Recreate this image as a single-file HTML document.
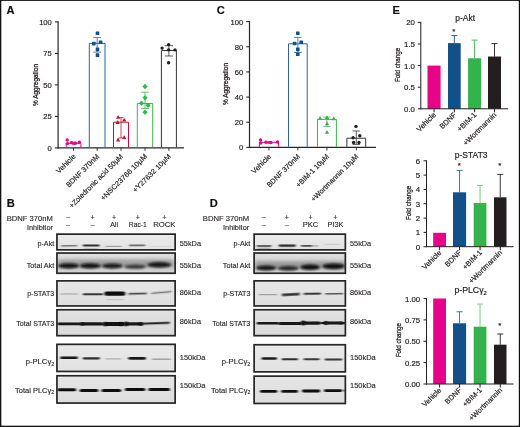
<!DOCTYPE html><html><head><meta charset="utf-8"><title>Figure</title><style>html,body{margin:0;padding:0;background:#fff}svg{display:block}</style></head><body>
<svg width="520" height="427" viewBox="0 0 520 427" font-family="Liberation Sans, sans-serif">
<defs><filter id="b1" x="-20%" y="-100%" width="140%" height="300%"><feGaussianBlur stdDeviation="0.7 0.5"/></filter><filter id="b2" x="-20%" y="-100%" width="140%" height="300%"><feGaussianBlur stdDeviation="1.0 0.8"/></filter></defs>
<rect x="0" y="0" width="520" height="427" fill="#fff" stroke="none" stroke-width="1" />
<rect x="0" y="0" width="520" height="0.9" fill="#111" stroke="none" stroke-width="1" />
<rect x="0" y="0" width="1.3" height="427" fill="#111" stroke="none" stroke-width="1" />
<rect x="518.8" y="0" width="1.2" height="427" fill="#111" stroke="none" stroke-width="1" />
<rect x="0" y="425.7" width="520" height="1.3" fill="#111" stroke="none" stroke-width="1" />
<text x="6.5" y="13.9" font-size="11.1" text-anchor="start" fill="#111" stroke="#111" stroke-width="0.18" font-weight="bold" >A</text>
<text x="6.7" y="206.8" font-size="11.1" text-anchor="start" fill="#111" stroke="#111" stroke-width="0.18" font-weight="bold" >B</text>
<text x="216.7" y="13.9" font-size="11.1" text-anchor="start" fill="#111" stroke="#111" stroke-width="0.18" font-weight="bold" >C</text>
<text x="209.8" y="206.8" font-size="11.1" text-anchor="start" fill="#111" stroke="#111" stroke-width="0.18" font-weight="bold" >D</text>
<text x="392.5" y="13.9" font-size="11.1" text-anchor="start" fill="#111" stroke="#111" stroke-width="0.18" font-weight="bold" >E</text>
<line x1="58.1" y1="21.299999999999997" x2="58.1" y2="148.5" stroke="#2b2728" stroke-width="1.2" />
<line x1="54.9" y1="147.9" x2="58.1" y2="147.9" stroke="#2b2728" stroke-width="1.1" />
<text x="51.800000000000004" y="150.9" font-size="7.6" text-anchor="end" fill="#231f20" stroke="#231f20" stroke-width="0.18" >0</text>
<line x1="54.9" y1="116.4" x2="58.1" y2="116.4" stroke="#2b2728" stroke-width="1.1" />
<text x="51.800000000000004" y="119.4" font-size="7.6" text-anchor="end" fill="#231f20" stroke="#231f20" stroke-width="0.18" >25</text>
<line x1="54.9" y1="84.9" x2="58.1" y2="84.9" stroke="#2b2728" stroke-width="1.1" />
<text x="51.800000000000004" y="87.9" font-size="7.6" text-anchor="end" fill="#231f20" stroke="#231f20" stroke-width="0.18" >50</text>
<line x1="54.9" y1="53.400000000000006" x2="58.1" y2="53.400000000000006" stroke="#2b2728" stroke-width="1.1" />
<text x="51.800000000000004" y="56.400000000000006" font-size="7.6" text-anchor="end" fill="#231f20" stroke="#231f20" stroke-width="0.18" >75</text>
<line x1="54.9" y1="21.900000000000006" x2="58.1" y2="21.900000000000006" stroke="#2b2728" stroke-width="1.1" />
<text x="51.800000000000004" y="24.900000000000006" font-size="7.6" text-anchor="end" fill="#231f20" stroke="#231f20" stroke-width="0.18" >100</text>
<line x1="57.5" y1="147.9" x2="184" y2="147.9" stroke="#2b2728" stroke-width="1.2" />
<text x="37.6" y="85" font-size="8" text-anchor="middle" fill="#231f20" stroke="#231f20" stroke-width="0.3" textLength="42" lengthAdjust="spacingAndGlyphs" transform="rotate(-90 37.6 85)" >% Aggregation</text>
<path d="M66.2,147.3 V143.3 H80.9 V147.3" fill="none" stroke="#e60487" stroke-width="1"/>
<line x1="73.55000000000001" y1="142" x2="73.55000000000001" y2="144.5" stroke="#e60487" stroke-width="0.8" />
<line x1="72.05000000000001" y1="142" x2="75.05000000000001" y2="142" stroke="#e60487" stroke-width="0.8" />
<line x1="72.05000000000001" y1="144.5" x2="75.05000000000001" y2="144.5" stroke="#e60487" stroke-width="0.8" />
<circle cx="67.2" cy="140" r="1.7" fill="#e60487"/>
<circle cx="67.4" cy="143.6" r="1.7" fill="#e60487"/>
<circle cx="71.5" cy="142.6" r="1.7" fill="#e60487"/>
<circle cx="75.5" cy="143.2" r="1.7" fill="#e60487"/>
<circle cx="79.3" cy="142.2" r="1.7" fill="#e60487"/>
<line x1="73.55000000000001" y1="147.9" x2="73.55000000000001" y2="150.9" stroke="#2b2728" stroke-width="0.9" />
<text x="76.15" y="156.9" font-size="7.2" text-anchor="end" fill="#231f20" stroke="#231f20" stroke-width="0.18" textLength="24.3" lengthAdjust="spacingAndGlyphs" transform="rotate(-45 76.15 156.9)" >Vehicle</text>
<path d="M89.3,147.3 V43.4 H105 V147.3" fill="none" stroke="#2e659c" stroke-width="1"/>
<line x1="97.15" y1="37.6" x2="97.15" y2="52.1" stroke="#2e659c" stroke-width="0.8" />
<line x1="93.25" y1="37.6" x2="101.05000000000001" y2="37.6" stroke="#2e659c" stroke-width="0.8" />
<line x1="93.25" y1="52.1" x2="101.05000000000001" y2="52.1" stroke="#2e659c" stroke-width="0.8" />
<rect x="95.7" y="31.499999999999996" width="3.6" height="3.6" fill="#115088" stroke="none" stroke-width="1" rx="0.4"/>
<rect x="92.0" y="41.800000000000004" width="3.6" height="3.6" fill="#115088" stroke="none" stroke-width="1" rx="0.4"/>
<rect x="98.8" y="40.5" width="3.6" height="3.6" fill="#115088" stroke="none" stroke-width="1" rx="0.4"/>
<rect x="95.7" y="47.6" width="3.6" height="3.6" fill="#115088" stroke="none" stroke-width="1" rx="0.4"/>
<rect x="95.7" y="53.300000000000004" width="3.6" height="3.6" fill="#115088" stroke="none" stroke-width="1" rx="0.4"/>
<line x1="97.15" y1="147.9" x2="97.15" y2="150.9" stroke="#2b2728" stroke-width="0.9" />
<text x="99.75" y="156.9" font-size="7.2" text-anchor="end" fill="#231f20" stroke="#231f20" stroke-width="0.18" transform="rotate(-45 99.75 156.9)" >BDNF 370nM</text>
<path d="M113.5,147.3 V122.2 H128.5 V147.3" fill="none" stroke="#c8102e" stroke-width="1"/>
<line x1="121.0" y1="117.6" x2="121.0" y2="138" stroke="#c8102e" stroke-width="0.8" />
<line x1="118.5" y1="117.6" x2="123.5" y2="117.6" stroke="#c8102e" stroke-width="0.8" />
<line x1="118.5" y1="138" x2="123.5" y2="138" stroke="#c8102e" stroke-width="0.8" />
<polygon points="118.1,115.0 116.0,118.8 120.19999999999999,118.8" fill="#c8102e"/>
<polygon points="124.2,117.8 122.10000000000001,121.6 126.3,121.6" fill="#c8102e"/>
<polygon points="117.6,120.10000000000001 115.5,123.9 119.69999999999999,123.9" fill="#c8102e"/>
<polygon points="124.2,135.29999999999998 122.10000000000001,139.1 126.3,139.1" fill="#c8102e"/>
<polygon points="118.1,137.6 116.0,141.4 120.19999999999999,141.4" fill="#c8102e"/>
<line x1="121.0" y1="147.9" x2="121.0" y2="150.9" stroke="#2b2728" stroke-width="0.9" />
<text x="123.6" y="156.9" font-size="7.2" text-anchor="end" fill="#231f20" stroke="#231f20" stroke-width="0.18" transform="rotate(-45 123.6 156.9)" >+Zoledronic acid 50µM</text>
<path d="M137.3,147.3 V103.5 H152.7 V147.3" fill="none" stroke="#3cb54a" stroke-width="1"/>
<line x1="145.0" y1="92.2" x2="145.0" y2="108.5" stroke="#3cb54a" stroke-width="0.8" />
<line x1="141.2" y1="92.2" x2="148.8" y2="92.2" stroke="#3cb54a" stroke-width="0.8" />
<line x1="141.2" y1="108.5" x2="148.8" y2="108.5" stroke="#3cb54a" stroke-width="0.8" />
<polygon points="145,84.1 142.7,86.5 145,88.9 147.3,86.5" fill="#32b44d" stroke="#32b44d" stroke-width="0.5" stroke-linejoin="round"/>
<polygon points="145,95.39999999999999 142.7,97.8 145,100.2 147.3,97.8" fill="#32b44d" stroke="#32b44d" stroke-width="0.5" stroke-linejoin="round"/>
<polygon points="141.5,100.8 139.2,103.2 141.5,105.60000000000001 143.8,103.2" fill="#32b44d" stroke="#32b44d" stroke-width="0.5" stroke-linejoin="round"/>
<polygon points="148.1,102.89999999999999 145.79999999999998,105.3 148.1,107.7 150.4,105.3" fill="#32b44d" stroke="#32b44d" stroke-width="0.5" stroke-linejoin="round"/>
<polygon points="145,109.8 142.7,112.2 145,114.60000000000001 147.3,112.2" fill="#32b44d" stroke="#32b44d" stroke-width="0.5" stroke-linejoin="round"/>
<line x1="145.0" y1="147.9" x2="145.0" y2="150.9" stroke="#2b2728" stroke-width="0.9" />
<text x="147.6" y="156.9" font-size="7.2" text-anchor="end" fill="#231f20" stroke="#231f20" stroke-width="0.18" textLength="62.5" lengthAdjust="spacingAndGlyphs" transform="rotate(-45 147.6 156.9)" >+NSC23766 10µM</text>
<path d="M161.4,147.3 V50.5 H176.4 V147.3" fill="none" stroke="#333" stroke-width="1"/>
<line x1="168.9" y1="45.7" x2="168.9" y2="56" stroke="#333" stroke-width="0.8" />
<line x1="164.8" y1="45.7" x2="173.0" y2="45.7" stroke="#333" stroke-width="0.8" />
<line x1="164.8" y1="56" x2="173.0" y2="56" stroke="#333" stroke-width="0.8" />
<circle cx="168.6" cy="44.6" r="1.7" fill="#231f20"/>
<circle cx="162.1" cy="48.1" r="1.7" fill="#231f20"/>
<circle cx="168.6" cy="49.9" r="1.7" fill="#231f20"/>
<circle cx="175" cy="49.9" r="1.7" fill="#231f20"/>
<circle cx="168.6" cy="62.7" r="1.7" fill="#231f20"/>
<line x1="168.9" y1="147.9" x2="168.9" y2="150.9" stroke="#2b2728" stroke-width="0.9" />
<text x="171.5" y="156.9" font-size="7.2" text-anchor="end" fill="#231f20" stroke="#231f20" stroke-width="0.18" textLength="51" lengthAdjust="spacingAndGlyphs" transform="rotate(-45 171.5 156.9)" >+Y27632 10µM</text>
<line x1="249.5" y1="21.0" x2="249.5" y2="148.0" stroke="#2b2728" stroke-width="1.2" />
<line x1="246.3" y1="147.4" x2="249.5" y2="147.4" stroke="#2b2728" stroke-width="1.1" />
<text x="243.2" y="150.4" font-size="7.6" text-anchor="end" fill="#231f20" stroke="#231f20" stroke-width="0.18" >0</text>
<line x1="246.3" y1="122.24000000000001" x2="249.5" y2="122.24000000000001" stroke="#2b2728" stroke-width="1.1" />
<text x="243.2" y="125.24000000000001" font-size="7.6" text-anchor="end" fill="#231f20" stroke="#231f20" stroke-width="0.18" >20</text>
<line x1="246.3" y1="97.08000000000001" x2="249.5" y2="97.08000000000001" stroke="#2b2728" stroke-width="1.1" />
<text x="243.2" y="100.08000000000001" font-size="7.6" text-anchor="end" fill="#231f20" stroke="#231f20" stroke-width="0.18" >40</text>
<line x1="246.3" y1="71.92" x2="249.5" y2="71.92" stroke="#2b2728" stroke-width="1.1" />
<text x="243.2" y="74.92" font-size="7.6" text-anchor="end" fill="#231f20" stroke="#231f20" stroke-width="0.18" >60</text>
<line x1="246.3" y1="46.760000000000005" x2="249.5" y2="46.760000000000005" stroke="#2b2728" stroke-width="1.1" />
<text x="243.2" y="49.760000000000005" font-size="7.6" text-anchor="end" fill="#231f20" stroke="#231f20" stroke-width="0.18" >80</text>
<line x1="246.3" y1="21.599999999999994" x2="249.5" y2="21.599999999999994" stroke="#2b2728" stroke-width="1.1" />
<text x="243.2" y="24.599999999999994" font-size="7.6" text-anchor="end" fill="#231f20" stroke="#231f20" stroke-width="0.18" >100</text>
<line x1="248.9" y1="147.4" x2="376" y2="147.4" stroke="#2b2728" stroke-width="1.2" />
<text x="228.2" y="84" font-size="8" text-anchor="middle" fill="#231f20" stroke="#231f20" stroke-width="0.3" textLength="42" lengthAdjust="spacingAndGlyphs" transform="rotate(-90 228.2 84)" >% Aggregation</text>
<path d="M259.4,146.8 V142.3 H278.5 V146.8" fill="none" stroke="#e60487" stroke-width="1"/>
<line x1="268.95" y1="141.5" x2="268.95" y2="143.5" stroke="#e60487" stroke-width="0.8" />
<line x1="267.45" y1="141.5" x2="270.45" y2="141.5" stroke="#e60487" stroke-width="0.8" />
<line x1="267.45" y1="143.5" x2="270.45" y2="143.5" stroke="#e60487" stroke-width="0.8" />
<circle cx="260.5" cy="140" r="1.7" fill="#e60487"/>
<circle cx="260.8" cy="143" r="1.7" fill="#e60487"/>
<circle cx="266" cy="142.3" r="1.7" fill="#e60487"/>
<circle cx="271" cy="142.5" r="1.7" fill="#e60487"/>
<circle cx="277.5" cy="142" r="1.7" fill="#e60487"/>
<line x1="268.95" y1="147.4" x2="268.95" y2="150.4" stroke="#2b2728" stroke-width="0.9" />
<text x="271.55" y="157.0" font-size="7.2" text-anchor="end" fill="#231f20" stroke="#231f20" stroke-width="0.18" textLength="24.3" lengthAdjust="spacingAndGlyphs" transform="rotate(-45 271.55 157.0)" >Vehicle</text>
<path d="M288.5,146.8 V43.8 H307.2 V146.8" fill="none" stroke="#2e659c" stroke-width="1"/>
<line x1="297.85" y1="37.4" x2="297.85" y2="52.5" stroke="#2e659c" stroke-width="0.8" />
<line x1="294.05" y1="37.4" x2="301.65000000000003" y2="37.4" stroke="#2e659c" stroke-width="0.8" />
<line x1="294.05" y1="52.5" x2="301.65000000000003" y2="52.5" stroke="#2e659c" stroke-width="0.8" />
<rect x="296.0" y="31.400000000000002" width="3.6" height="3.6" fill="#115088" stroke="none" stroke-width="1" rx="0.4"/>
<rect x="292.8" y="41.7" width="3.6" height="3.6" fill="#115088" stroke="none" stroke-width="1" rx="0.4"/>
<rect x="299.4" y="40.5" width="3.6" height="3.6" fill="#115088" stroke="none" stroke-width="1" rx="0.4"/>
<rect x="296.0" y="47.6" width="3.6" height="3.6" fill="#115088" stroke="none" stroke-width="1" rx="0.4"/>
<rect x="296.0" y="52.5" width="3.6" height="3.6" fill="#115088" stroke="none" stroke-width="1" rx="0.4"/>
<line x1="297.85" y1="147.4" x2="297.85" y2="150.4" stroke="#2b2728" stroke-width="0.9" />
<text x="300.45000000000005" y="157.0" font-size="7.2" text-anchor="end" fill="#231f20" stroke="#231f20" stroke-width="0.18" transform="rotate(-45 300.45000000000005 157.0)" >BDNF 370nM</text>
<path d="M317.5,146.8 V119.4 H336.4 V146.8" fill="none" stroke="#3cb54a" stroke-width="1"/>
<line x1="326.95" y1="117" x2="326.95" y2="126.4" stroke="#3cb54a" stroke-width="0.8" />
<line x1="323.45" y1="117" x2="330.45" y2="117" stroke="#3cb54a" stroke-width="0.8" />
<line x1="323.45" y1="126.4" x2="330.45" y2="126.4" stroke="#3cb54a" stroke-width="0.8" />
<polygon points="320,116.0 317.9,119.8 322.1,119.8" fill="#32b44d"/>
<polygon points="327,115.2 324.9,119.0 329.1,119.0" fill="#32b44d"/>
<polygon points="333.7,116.5 331.59999999999997,120.3 335.8,120.3" fill="#32b44d"/>
<polygon points="327,121.4 324.9,125.2 329.1,125.2" fill="#32b44d"/>
<polygon points="327,130.0 324.9,133.8 329.1,133.8" fill="#32b44d"/>
<line x1="326.95" y1="147.4" x2="326.95" y2="150.4" stroke="#2b2728" stroke-width="0.9" />
<text x="329.55" y="157.0" font-size="7.2" text-anchor="end" fill="#231f20" stroke="#231f20" stroke-width="0.18" transform="rotate(-45 329.55 157.0)" >+BIM-1 10µM</text>
<path d="M346.9,146.8 V138.2 H365.7 V146.8" fill="none" stroke="#333" stroke-width="1"/>
<line x1="356.29999999999995" y1="131" x2="356.29999999999995" y2="144.4" stroke="#333" stroke-width="0.8" />
<line x1="352.49999999999994" y1="131" x2="360.09999999999997" y2="131" stroke="#333" stroke-width="0.8" />
<line x1="352.49999999999994" y1="144.4" x2="360.09999999999997" y2="144.4" stroke="#333" stroke-width="0.8" />
<circle cx="356" cy="126.4" r="1.7" fill="#231f20"/>
<circle cx="359.8" cy="135.8" r="1.7" fill="#231f20"/>
<circle cx="353.1" cy="137.7" r="1.7" fill="#231f20"/>
<circle cx="353.6" cy="142.5" r="1.7" fill="#231f20"/>
<circle cx="359" cy="142.5" r="1.7" fill="#231f20"/>
<line x1="356.29999999999995" y1="147.4" x2="356.29999999999995" y2="150.4" stroke="#2b2728" stroke-width="0.9" />
<text x="358.9" y="157.0" font-size="7.2" text-anchor="end" fill="#231f20" stroke="#231f20" stroke-width="0.18" textLength="63.8" lengthAdjust="spacingAndGlyphs" transform="rotate(-45 358.9 157.0)" >+Wortmannin 10µM</text>
<rect x="427.5" y="65.6" width="13.100000000000023" height="43.2" fill="#e60487" stroke="none" stroke-width="1" />
<line x1="454.35" y1="43.135999999999996" x2="454.35" y2="35.57599999999999" stroke="#115088" stroke-width="0.9" />
<line x1="451.35" y1="35.57599999999999" x2="457.35" y2="35.57599999999999" stroke="#115088" stroke-width="0.9" />
<rect x="448" y="43.135999999999996" width="12.699999999999989" height="65.664" fill="#115088" stroke="none" stroke-width="1" />
<line x1="474.6" y1="58.256" x2="474.6" y2="40.111999999999995" stroke="#32b44d" stroke-width="0.9" />
<line x1="471.6" y1="40.111999999999995" x2="477.6" y2="40.111999999999995" stroke="#32b44d" stroke-width="0.9" />
<rect x="468.1" y="58.256" width="13.0" height="50.544" fill="#32b44d" stroke="none" stroke-width="1" />
<line x1="494.5" y1="56.528" x2="494.5" y2="43.568" stroke="#231f20" stroke-width="0.9" />
<line x1="491.5" y1="43.568" x2="497.5" y2="43.568" stroke="#231f20" stroke-width="0.9" />
<rect x="488" y="56.528" width="13" height="52.272" fill="#231f20" stroke="none" stroke-width="1" />
<line x1="420.8" y1="21.9" x2="420.8" y2="109.3" stroke="#231f20" stroke-width="1" />
<line x1="417.8" y1="108.8" x2="420.8" y2="108.8" stroke="#231f20" stroke-width="1" />
<text x="414.90000000000003" y="111.85" font-size="7.8" text-anchor="end" fill="#231f20" stroke="#231f20" stroke-width="0.18" >0.0</text>
<line x1="417.8" y1="87.19999999999999" x2="420.8" y2="87.19999999999999" stroke="#231f20" stroke-width="1" />
<text x="414.90000000000003" y="90.24999999999999" font-size="7.8" text-anchor="end" fill="#231f20" stroke="#231f20" stroke-width="0.18" >0.5</text>
<line x1="417.8" y1="65.6" x2="420.8" y2="65.6" stroke="#231f20" stroke-width="1" />
<text x="414.90000000000003" y="68.64999999999999" font-size="7.8" text-anchor="end" fill="#231f20" stroke="#231f20" stroke-width="0.18" >1.0</text>
<line x1="417.8" y1="43.999999999999986" x2="420.8" y2="43.999999999999986" stroke="#231f20" stroke-width="1" />
<text x="414.90000000000003" y="47.04999999999998" font-size="7.8" text-anchor="end" fill="#231f20" stroke="#231f20" stroke-width="0.18" >1.5</text>
<line x1="417.8" y1="22.39999999999999" x2="420.8" y2="22.39999999999999" stroke="#231f20" stroke-width="1" />
<text x="414.90000000000003" y="25.449999999999992" font-size="7.8" text-anchor="end" fill="#231f20" stroke="#231f20" stroke-width="0.18" >20</text>
<line x1="420.3" y1="108.8" x2="508.2" y2="108.8" stroke="#231f20" stroke-width="1" />
<line x1="434.05" y1="108.8" x2="434.05" y2="112.3" stroke="#231f20" stroke-width="1" />
<text x="436.35" y="115.3" font-size="7.3" text-anchor="end" fill="#231f20" stroke="#231f20" stroke-width="0.18" textLength="23.8" lengthAdjust="spacingAndGlyphs" transform="rotate(-45 436.35 115.3)" >Vehicle</text>
<line x1="454.35" y1="108.8" x2="454.35" y2="112.3" stroke="#231f20" stroke-width="1" />
<text x="456.65000000000003" y="115.3" font-size="7.3" text-anchor="end" fill="#231f20" stroke="#231f20" stroke-width="0.18" transform="rotate(-45 456.65000000000003 115.3)" >BDNF</text>
<line x1="474.6" y1="108.8" x2="474.6" y2="112.3" stroke="#231f20" stroke-width="1" />
<text x="476.90000000000003" y="115.3" font-size="7.3" text-anchor="end" fill="#231f20" stroke="#231f20" stroke-width="0.18" transform="rotate(-45 476.90000000000003 115.3)" >+BIM-1</text>
<line x1="494.5" y1="108.8" x2="494.5" y2="112.3" stroke="#231f20" stroke-width="1" />
<text x="496.8" y="115.3" font-size="7.3" text-anchor="end" fill="#231f20" stroke="#231f20" stroke-width="0.18" transform="rotate(-45 496.8 115.3)" >+Wortmannin</text>
<text x="465.2" y="21" font-size="8.7" text-anchor="middle" fill="#231f20" stroke="#231f20" stroke-width="0.18" textLength="19.7" lengthAdjust="spacingAndGlyphs" >p-Akt</text>
<text x="400.2" y="65" font-size="8" text-anchor="middle" fill="#231f20" stroke="#231f20" stroke-width="0.28" textLength="34.2" lengthAdjust="spacingAndGlyphs" transform="rotate(-90 400.2 65)" >Fold change</text>
<text x="453.8" y="33.5" font-size="8" text-anchor="middle" fill="#231f20" stroke="#231f20" stroke-width="0.18" >*</text>
<rect x="433.2" y="232.81283333333332" width="12.800000000000011" height="13.887166666666673" fill="#e60487" stroke="none" stroke-width="1" />
<line x1="459.55" y1="192.29666666666668" x2="459.55" y2="170.3921666666667" stroke="#2e659c" stroke-width="0.9" />
<line x1="456.55" y1="170.3921666666667" x2="462.55" y2="170.3921666666667" stroke="#2e659c" stroke-width="0.9" />
<rect x="453" y="192.29666666666668" width="13.100000000000023" height="54.40333333333331" fill="#115088" stroke="none" stroke-width="1" />
<line x1="480.04999999999995" y1="203.03416666666666" x2="480.04999999999995" y2="185.42466666666667" stroke="#6cc777" stroke-width="0.9" />
<line x1="477.04999999999995" y1="185.42466666666667" x2="483.04999999999995" y2="185.42466666666667" stroke="#6cc777" stroke-width="0.9" />
<rect x="473.7" y="203.03416666666666" width="12.699999999999989" height="43.665833333333325" fill="#32b44d" stroke="none" stroke-width="1" />
<line x1="500.25" y1="197.3075" x2="500.25" y2="174.40083333333337" stroke="#231f20" stroke-width="0.9" />
<line x1="497.25" y1="174.40083333333337" x2="503.25" y2="174.40083333333337" stroke="#231f20" stroke-width="0.9" />
<rect x="494" y="197.3075" width="12.5" height="49.392499999999984" fill="#231f20" stroke="none" stroke-width="1" />
<line x1="426.5" y1="160.3" x2="426.5" y2="247.2" stroke="#231f20" stroke-width="1" />
<line x1="423.5" y1="246.7" x2="426.5" y2="246.7" stroke="#231f20" stroke-width="1" />
<text x="420.1" y="249.75" font-size="7.8" text-anchor="end" fill="#231f20" stroke="#231f20" stroke-width="0.18" >0</text>
<line x1="423.5" y1="232.38333333333333" x2="426.5" y2="232.38333333333333" stroke="#231f20" stroke-width="1" />
<text x="420.1" y="235.43333333333334" font-size="7.8" text-anchor="end" fill="#231f20" stroke="#231f20" stroke-width="0.18" >1</text>
<line x1="423.5" y1="218.06666666666666" x2="426.5" y2="218.06666666666666" stroke="#231f20" stroke-width="1" />
<text x="420.1" y="221.11666666666667" font-size="7.8" text-anchor="end" fill="#231f20" stroke="#231f20" stroke-width="0.18" >2</text>
<line x1="423.5" y1="203.75" x2="426.5" y2="203.75" stroke="#231f20" stroke-width="1" />
<text x="420.1" y="206.8" font-size="7.8" text-anchor="end" fill="#231f20" stroke="#231f20" stroke-width="0.18" >3</text>
<line x1="423.5" y1="189.43333333333334" x2="426.5" y2="189.43333333333334" stroke="#231f20" stroke-width="1" />
<text x="420.1" y="192.48333333333335" font-size="7.8" text-anchor="end" fill="#231f20" stroke="#231f20" stroke-width="0.18" >4</text>
<line x1="423.5" y1="175.11666666666667" x2="426.5" y2="175.11666666666667" stroke="#231f20" stroke-width="1" />
<text x="420.1" y="178.16666666666669" font-size="7.8" text-anchor="end" fill="#231f20" stroke="#231f20" stroke-width="0.18" >5</text>
<line x1="423.5" y1="160.8" x2="426.5" y2="160.8" stroke="#231f20" stroke-width="1" />
<text x="420.1" y="163.85000000000002" font-size="7.8" text-anchor="end" fill="#231f20" stroke="#231f20" stroke-width="0.18" >6</text>
<line x1="426.0" y1="246.7" x2="513.6" y2="246.7" stroke="#231f20" stroke-width="1" />
<line x1="439.6" y1="246.7" x2="439.6" y2="250.2" stroke="#231f20" stroke-width="1" />
<text x="441.90000000000003" y="253.2" font-size="7.3" text-anchor="end" fill="#231f20" stroke="#231f20" stroke-width="0.18" textLength="23.8" lengthAdjust="spacingAndGlyphs" transform="rotate(-45 441.90000000000003 253.2)" >Vehicle</text>
<line x1="459.55" y1="246.7" x2="459.55" y2="250.2" stroke="#231f20" stroke-width="1" />
<text x="461.85" y="253.2" font-size="7.3" text-anchor="end" fill="#231f20" stroke="#231f20" stroke-width="0.18" transform="rotate(-45 461.85 253.2)" >BDNF</text>
<line x1="480.04999999999995" y1="246.7" x2="480.04999999999995" y2="250.2" stroke="#231f20" stroke-width="1" />
<text x="482.34999999999997" y="253.2" font-size="7.3" text-anchor="end" fill="#231f20" stroke="#231f20" stroke-width="0.18" transform="rotate(-45 482.34999999999997 253.2)" >+BIM-1</text>
<line x1="500.25" y1="246.7" x2="500.25" y2="250.2" stroke="#231f20" stroke-width="1" />
<text x="502.55" y="253.2" font-size="7.3" text-anchor="end" fill="#231f20" stroke="#231f20" stroke-width="0.18" transform="rotate(-45 502.55 253.2)" >+Wortmannin</text>
<text x="471.2" y="157.6" font-size="8.7" text-anchor="middle" fill="#231f20" stroke="#231f20" stroke-width="0.18" textLength="32.8" lengthAdjust="spacingAndGlyphs" >p-STAT3</text>
<text x="410.8" y="203" font-size="8" text-anchor="middle" fill="#231f20" stroke="#231f20" stroke-width="0.28" textLength="34.2" lengthAdjust="spacingAndGlyphs" transform="rotate(-90 410.8 203)" >Fold change</text>
<text x="459.4" y="168" font-size="8" text-anchor="middle" fill="#231f20" stroke="#231f20" stroke-width="0.18" >*</text>
<text x="499.8" y="168" font-size="8" text-anchor="middle" fill="#231f20" stroke="#231f20" stroke-width="0.18" >*</text>
<rect x="433.2" y="298.5" width="12.800000000000011" height="85.5" fill="#e60487" stroke="none" stroke-width="1" />
<line x1="459.55" y1="323.295" x2="459.55" y2="311.7525" stroke="#2e659c" stroke-width="0.9" />
<line x1="456.55" y1="311.7525" x2="462.55" y2="311.7525" stroke="#2e659c" stroke-width="0.9" />
<rect x="453" y="323.295" width="13.100000000000023" height="60.704999999999984" fill="#115088" stroke="none" stroke-width="1" />
<line x1="480.04999999999995" y1="326.715" x2="480.04999999999995" y2="304.0575" stroke="#6cc777" stroke-width="0.9" />
<line x1="477.04999999999995" y1="304.0575" x2="483.04999999999995" y2="304.0575" stroke="#6cc777" stroke-width="0.9" />
<rect x="473.7" y="326.715" width="12.699999999999989" height="57.285000000000025" fill="#32b44d" stroke="none" stroke-width="1" />
<line x1="500.25" y1="344.67" x2="500.25" y2="333.9825" stroke="#231f20" stroke-width="0.9" />
<line x1="497.25" y1="333.9825" x2="503.25" y2="333.9825" stroke="#231f20" stroke-width="0.9" />
<rect x="494" y="344.67" width="12.5" height="39.329999999999984" fill="#231f20" stroke="none" stroke-width="1" />
<line x1="426.5" y1="298.0" x2="426.5" y2="384.5" stroke="#231f20" stroke-width="1" />
<line x1="423.5" y1="384.0" x2="426.5" y2="384.0" stroke="#231f20" stroke-width="1" />
<text x="420.1" y="387.05" font-size="7.8" text-anchor="end" fill="#231f20" stroke="#231f20" stroke-width="0.18" >0.00</text>
<line x1="423.5" y1="362.625" x2="426.5" y2="362.625" stroke="#231f20" stroke-width="1" />
<text x="420.1" y="365.675" font-size="7.8" text-anchor="end" fill="#231f20" stroke="#231f20" stroke-width="0.18" >0.25</text>
<line x1="423.5" y1="341.25" x2="426.5" y2="341.25" stroke="#231f20" stroke-width="1" />
<text x="420.1" y="344.3" font-size="7.8" text-anchor="end" fill="#231f20" stroke="#231f20" stroke-width="0.18" >0.50</text>
<line x1="423.5" y1="319.875" x2="426.5" y2="319.875" stroke="#231f20" stroke-width="1" />
<text x="420.1" y="322.925" font-size="7.8" text-anchor="end" fill="#231f20" stroke="#231f20" stroke-width="0.18" >0.75</text>
<line x1="423.5" y1="298.5" x2="426.5" y2="298.5" stroke="#231f20" stroke-width="1" />
<text x="420.1" y="301.55" font-size="7.8" text-anchor="end" fill="#231f20" stroke="#231f20" stroke-width="0.18" >1.00</text>
<line x1="426.0" y1="384" x2="513.6" y2="384" stroke="#231f20" stroke-width="1" />
<line x1="439.6" y1="384" x2="439.6" y2="387.5" stroke="#231f20" stroke-width="1" />
<text x="441.90000000000003" y="390.5" font-size="7.3" text-anchor="end" fill="#231f20" stroke="#231f20" stroke-width="0.18" textLength="23.8" lengthAdjust="spacingAndGlyphs" transform="rotate(-45 441.90000000000003 390.5)" >Vehicle</text>
<line x1="459.55" y1="384" x2="459.55" y2="387.5" stroke="#231f20" stroke-width="1" />
<text x="461.85" y="390.5" font-size="7.3" text-anchor="end" fill="#231f20" stroke="#231f20" stroke-width="0.18" transform="rotate(-45 461.85 390.5)" >BDNF</text>
<line x1="480.04999999999995" y1="384" x2="480.04999999999995" y2="387.5" stroke="#231f20" stroke-width="1" />
<text x="482.34999999999997" y="390.5" font-size="7.3" text-anchor="end" fill="#231f20" stroke="#231f20" stroke-width="0.18" transform="rotate(-45 482.34999999999997 390.5)" >+BIM-1</text>
<line x1="500.25" y1="384" x2="500.25" y2="387.5" stroke="#231f20" stroke-width="1" />
<text x="502.55" y="390.5" font-size="7.3" text-anchor="end" fill="#231f20" stroke="#231f20" stroke-width="0.18" transform="rotate(-45 502.55 390.5)" >+Wortmannin</text>
<text x="470.6" y="292.6" font-size="8.7" text-anchor="middle" fill="#231f20" stroke="#231f20" stroke-width="0.2" textLength="32.4" lengthAdjust="spacingAndGlyphs">p-PLCγ<tspan font-size="5.8" dy="2">2</tspan></text>
<text x="400.9" y="340.2" font-size="8" text-anchor="middle" fill="#231f20" stroke="#231f20" stroke-width="0.28" textLength="34.2" lengthAdjust="spacingAndGlyphs" transform="rotate(-90 400.9 340.2)" >Fold change</text>
<text x="499.8" y="328" font-size="8" text-anchor="middle" fill="#231f20" stroke="#231f20" stroke-width="0.18" >*</text>
<defs>
<filter id="f1" x="-20%" y="-200%" width="140%" height="500%"><feGaussianBlur stdDeviation="0.9 0.45"/></filter>
<filter id="f2" x="-20%" y="-200%" width="140%" height="500%"><feGaussianBlur stdDeviation="1.2 0.85"/></filter>
<filter id="f3" x="-20%" y="-200%" width="140%" height="500%"><feGaussianBlur stdDeviation="2.2 1.8"/></filter>
</defs>
<text x="52.9" y="220.8" font-size="7.2" text-anchor="end" fill="#231f20" stroke="#231f20" stroke-width="0.12" textLength="46.1" lengthAdjust="spacingAndGlyphs" >BDNF 370nM</text>
<text x="52.9" y="229.8" font-size="7.2" text-anchor="end" fill="#231f20" stroke="#231f20" stroke-width="0.12" textLength="26" lengthAdjust="spacingAndGlyphs" >Inhibitor</text>
<text x="68.1" y="218.9" font-size="7" text-anchor="middle" fill="#231f20" stroke="#231f20" stroke-width="0.12" >–</text>
<text x="92.6" y="219.6" font-size="7" text-anchor="middle" fill="#231f20" stroke="#231f20" stroke-width="0.12" >+</text>
<text x="114.1" y="219.6" font-size="7" text-anchor="middle" fill="#231f20" stroke="#231f20" stroke-width="0.12" >+</text>
<text x="137.8" y="219.6" font-size="7" text-anchor="middle" fill="#231f20" stroke="#231f20" stroke-width="0.12" >+</text>
<text x="164.3" y="219.6" font-size="7" text-anchor="middle" fill="#231f20" stroke="#231f20" stroke-width="0.12" >+</text>
<text x="68.1" y="226.5" font-size="7.2" text-anchor="middle" fill="#231f20" stroke="#231f20" stroke-width="0.12" >–</text>
<text x="92.6" y="226.5" font-size="7.2" text-anchor="middle" fill="#231f20" stroke="#231f20" stroke-width="0.12" >–</text>
<text x="114.1" y="227" font-size="7.2" text-anchor="middle" fill="#231f20" stroke="#231f20" stroke-width="0.12" textLength="7.8" lengthAdjust="spacingAndGlyphs" >All</text>
<text x="137.8" y="227" font-size="7.2" text-anchor="middle" fill="#231f20" stroke="#231f20" stroke-width="0.12" textLength="18.1" lengthAdjust="spacingAndGlyphs" >Rac-1</text>
<text x="164.3" y="227" font-size="7.2" text-anchor="middle" fill="#231f20" stroke="#231f20" stroke-width="0.12" textLength="22.3" lengthAdjust="spacingAndGlyphs" >ROCK</text>
<linearGradient id="g1" x1="0" y1="0" x2="0" y2="1"><stop offset="0" stop-color="#ebebeb"/><stop offset="0.6" stop-color="#e6e6e6"/><stop offset="1" stop-color="#e2e2e2"/></linearGradient>
<rect x="56.1" y="233.3" width="119.9" height="17.399999999999977" fill="url(#g1)" stroke="none" stroke-width="1" />
<clipPath id="cg1"><rect x="56.1" y="233.3" width="119.9" height="17.399999999999977"/></clipPath>
<g clip-path="url(#cg1)">
<rect x="60.9" y="245.05" width="16.4" height="1.5" rx="0.75" fill="#0c0c0c" opacity="0.5" filter="url(#f1)" transform="rotate(-1 69.1 245.8)"/>
<rect x="82.7" y="244.5" width="16.89999999999999" height="2.0" rx="1.0" fill="#0c0c0c" opacity="0.82" filter="url(#f1)"/>
<rect x="84" y="247.9" width="14" height="1.2" rx="0.6" fill="#0c0c0c" opacity="0.15" filter="url(#f1)"/>
<rect x="105.4" y="245.65" width="16.5" height="1.3" rx="0.65" fill="#0c0c0c" opacity="0.3" filter="url(#f1)"/>
<rect x="128.9" y="244.6" width="16.400000000000006" height="1.6" rx="0.8" fill="#0c0c0c" opacity="0.55" filter="url(#f1)"/>
<rect x="150" y="245.9" width="20" height="1.2" rx="0.6" fill="#0c0c0c" opacity="0.06" filter="url(#f1)"/>
</g>
<rect x="56.95" y="234.15" width="118.2" height="15.699999999999978" fill="none" stroke="#262626" stroke-width="1.7" />
<text x="54.2" y="246.2" font-size="7.1" text-anchor="end" fill="#231f20" stroke="#231f20" stroke-width="0.12" textLength="16.7" lengthAdjust="spacingAndGlyphs" >p-Akt</text>
<text x="179.8" y="246.2" font-size="7.2" text-anchor="start" fill="#231f20" stroke="#231f20" stroke-width="0.12" textLength="21.2" lengthAdjust="spacingAndGlyphs" >55kDa</text>
<linearGradient id="g2" x1="0" y1="0" x2="0" y2="1"><stop offset="0" stop-color="#e4e4e4"/><stop offset="0.6" stop-color="#c9c9c9"/><stop offset="1" stop-color="#d4d4d4"/></linearGradient>
<rect x="56.1" y="252.2" width="119.9" height="21.900000000000034" fill="url(#g2)" stroke="none" stroke-width="1" />
<clipPath id="cg2"><rect x="56.1" y="252.2" width="119.9" height="21.900000000000034"/></clipPath>
<g clip-path="url(#cg2)">
<rect x="57.5" y="259.5" width="116.5" height="8" rx="3" fill="#0c0c0c" opacity="0.25" filter="url(#f3)"/>
<ellipse cx="68.65" cy="265.9" rx="10.45" ry="2.576" fill="#0c0c0c" opacity="0.95" filter="url(#f2)"/>
<ellipse cx="90.3" cy="265.9" rx="10.500000000000004" ry="2.576" fill="#0c0c0c" opacity="0.95" filter="url(#f2)"/>
<ellipse cx="112.35" cy="266" rx="10.350000000000005" ry="2.408" fill="#0c0c0c" opacity="0.9" filter="url(#f2)"/>
<ellipse cx="135.25" cy="266.8" rx="10.850000000000005" ry="2.0160000000000005" fill="#0c0c0c" opacity="0.75" filter="url(#f2)"/>
<ellipse cx="159.2" cy="264.8" rx="12.000000000000004" ry="2.688" fill="#0c0c0c" opacity="0.92" filter="url(#f2)"/>
</g>
<rect x="56.95" y="253.04999999999998" width="118.2" height="20.200000000000035" fill="none" stroke="#262626" stroke-width="1.7" />
<text x="54.2" y="267.5" font-size="7.1" text-anchor="end" fill="#231f20" stroke="#231f20" stroke-width="0.12" textLength="27.5" lengthAdjust="spacingAndGlyphs" >Total Akt</text>
<text x="179.8" y="267.5" font-size="7.2" text-anchor="start" fill="#231f20" stroke="#231f20" stroke-width="0.12" textLength="21.2" lengthAdjust="spacingAndGlyphs" >55kDa</text>
<linearGradient id="g3" x1="0" y1="0" x2="0" y2="1"><stop offset="0" stop-color="#e6e6e6"/><stop offset="0.6" stop-color="#e2e2e2"/><stop offset="1" stop-color="#dedede"/></linearGradient>
<rect x="56.1" y="280" width="119.9" height="26.80000000000001" fill="url(#g3)" stroke="none" stroke-width="1" />
<clipPath id="cg3"><rect x="56.1" y="280" width="119.9" height="26.80000000000001"/></clipPath>
<g clip-path="url(#cg3)">
<rect x="60.2" y="293.4" width="17.799999999999997" height="1.2" rx="0.6" fill="#0c0c0c" opacity="0.3" filter="url(#f1)"/>
<rect x="82.7" y="293.2" width="20.39999999999999" height="2" rx="1.0" fill="#0c0c0c" opacity="0.8" filter="url(#f1)"/>
<rect x="104.3" y="291.59999999999997" width="21.10000000000001" height="4.2" rx="2.1" fill="#0c0c0c" opacity="1" filter="url(#f1)"/>
<rect x="106" y="299.0" width="18" height="1.2" rx="0.6" fill="#0c0c0c" opacity="0.12" filter="url(#f1)"/>
<rect x="128.2" y="292.8" width="18.80000000000001" height="1.8" rx="0.9" fill="#0c0c0c" opacity="0.7" filter="url(#f1)" transform="rotate(-1.5 137.6 293.7)"/>
<rect x="151.2" y="291.85" width="20.400000000000006" height="1.3" rx="0.65" fill="#0c0c0c" opacity="0.5" filter="url(#f1)" transform="rotate(-5 161.39999999999998 292.5)"/>
</g>
<rect x="56.95" y="280.85" width="118.2" height="25.100000000000012" fill="none" stroke="#262626" stroke-width="1.7" />
<text x="54.2" y="296.3" font-size="7.1" text-anchor="end" fill="#231f20" stroke="#231f20" stroke-width="0.12" textLength="27" lengthAdjust="spacingAndGlyphs" >p-STAT3</text>
<text x="179.8" y="294.8" font-size="7.2" text-anchor="start" fill="#231f20" stroke="#231f20" stroke-width="0.12" textLength="21.2" lengthAdjust="spacingAndGlyphs" >86kDa</text>
<linearGradient id="g4" x1="0" y1="0" x2="0" y2="1"><stop offset="0" stop-color="#e2e2e2"/><stop offset="0.6" stop-color="#dcdcdc"/><stop offset="1" stop-color="#dadada"/></linearGradient>
<rect x="56.1" y="308.9" width="119.9" height="27.600000000000023" fill="url(#g4)" stroke="none" stroke-width="1" />
<clipPath id="cg4"><rect x="56.1" y="308.9" width="119.9" height="27.600000000000023"/></clipPath>
<g clip-path="url(#cg4)">
<rect x="57.3" y="322.5" width="23.700000000000003" height="2.8" rx="1.4" fill="#0c0c0c" opacity="0.95" filter="url(#f1)"/>
<rect x="80" y="322.29999999999995" width="24" height="3.2" rx="1.6" fill="#0c0c0c" opacity="0.95" filter="url(#f1)"/>
<rect x="103.8" y="321.9" width="21.60000000000001" height="4.0" rx="2.0" fill="#0c0c0c" opacity="0.97" filter="url(#f1)"/>
<rect x="103.3" y="321.4" width="3.9000000000000057" height="5" rx="2.5" fill="#0c0c0c" opacity="0.95" filter="url(#f1)"/>
<rect x="119.3" y="321.4" width="3.700000000000003" height="5" rx="2.5" fill="#0c0c0c" opacity="0.95" filter="url(#f1)"/>
<rect x="124.2" y="321.29999999999995" width="3.999999999999986" height="5.2" rx="2.6" fill="#0c0c0c" opacity="0.95" filter="url(#f1)"/>
<rect x="125.4" y="322.29999999999995" width="17.599999999999994" height="3.2" rx="1.6" fill="#0c0c0c" opacity="0.95" filter="url(#f1)"/>
<rect x="138.8" y="321.7" width="3.799999999999983" height="4.4" rx="2.2" fill="#0c0c0c" opacity="0.95" filter="url(#f1)"/>
<rect x="142" y="322.2" width="28" height="2.0" rx="1.0" fill="#0c0c0c" opacity="0.92" filter="url(#f1)" transform="rotate(-2 156.0 323.2)"/>
<rect x="80" y="322.0" width="4" height="3.8" rx="1.9" fill="#0c0c0c" opacity="0.9" filter="url(#f1)"/>
</g>
<rect x="56.95" y="309.75" width="118.2" height="25.900000000000023" fill="none" stroke="#262626" stroke-width="1.7" />
<text x="54.2" y="326" font-size="7.1" text-anchor="end" fill="#231f20" stroke="#231f20" stroke-width="0.12" textLength="38" lengthAdjust="spacingAndGlyphs" >Total STAT3</text>
<text x="179.8" y="324.2" font-size="7.2" text-anchor="start" fill="#231f20" stroke="#231f20" stroke-width="0.12" textLength="21.2" lengthAdjust="spacingAndGlyphs" >86kDa</text>
<linearGradient id="g5" x1="0" y1="0" x2="0" y2="1"><stop offset="0" stop-color="#e9e9e9"/><stop offset="0.6" stop-color="#e5e5e5"/><stop offset="1" stop-color="#e2e2e2"/></linearGradient>
<rect x="56.1" y="343.5" width="119.9" height="28.80000000000001" fill="url(#g5)" stroke="none" stroke-width="1" />
<clipPath id="cg5"><rect x="56.1" y="343.5" width="119.9" height="28.80000000000001"/></clipPath>
<g clip-path="url(#cg5)">
<rect x="60.2" y="356.5" width="17.599999999999994" height="2.6" rx="1.3" fill="#0c0c0c" opacity="0.95" filter="url(#f1)"/>
<rect x="82.7" y="357.2" width="17.299999999999997" height="2.2" rx="1.1" fill="#0c0c0c" opacity="0.85" filter="url(#f1)"/>
<rect x="105.4" y="358.2" width="15.799999999999997" height="1.2" rx="0.6" fill="#0c0c0c" opacity="0.25" filter="url(#f1)"/>
<rect x="128.2" y="356.90000000000003" width="17.80000000000001" height="2.8" rx="1.4" fill="#0c0c0c" opacity="0.95" filter="url(#f1)"/>
<rect x="151.7" y="358.5" width="19.400000000000006" height="1.4" rx="0.7" fill="#0c0c0c" opacity="0.3" filter="url(#f1)"/>
</g>
<rect x="56.95" y="344.35" width="118.2" height="27.100000000000012" fill="none" stroke="#262626" stroke-width="1.7" />
<text x="54.2" y="364" font-size="7.1" text-anchor="end" fill="#231f20" stroke="#231f20" stroke-width="0.12" textLength="28.5" lengthAdjust="spacingAndGlyphs">p-PLCγ<tspan font-size="4.9" dy="1.6">2</tspan></text>
<text x="179.8" y="359.7" font-size="7.2" text-anchor="start" fill="#231f20" stroke="#231f20" stroke-width="0.12" textLength="25.7" lengthAdjust="spacingAndGlyphs" >150kDa</text>
<linearGradient id="g6" x1="0" y1="0" x2="0" y2="1"><stop offset="0" stop-color="#e6e6e6"/><stop offset="0.6" stop-color="#e0e0e0"/><stop offset="1" stop-color="#dedede"/></linearGradient>
<rect x="56.1" y="374.9" width="119.9" height="29.0" fill="url(#g6)" stroke="none" stroke-width="1" />
<clipPath id="cg6"><rect x="56.1" y="374.9" width="119.9" height="29.0"/></clipPath>
<g clip-path="url(#cg6)">
<rect x="57.3" y="388.2" width="18.799999999999997" height="3" rx="1.5" fill="#0c0c0c" opacity="1" filter="url(#f1)"/>
<rect x="79.6" y="388.9" width="18.80000000000001" height="3" rx="1.5" fill="#0c0c0c" opacity="1" filter="url(#f1)"/>
<rect x="101.5" y="388.9" width="19.700000000000003" height="3" rx="1.5" fill="#0c0c0c" opacity="1" filter="url(#f1)"/>
<rect x="124.9" y="388.0" width="20.400000000000006" height="3" rx="1.5" fill="#0c0c0c" opacity="1" filter="url(#f1)"/>
<rect x="148.4" y="388.0" width="21.599999999999994" height="3" rx="1.5" fill="#0c0c0c" opacity="1" filter="url(#f1)"/>
</g>
<rect x="56.95" y="375.75" width="118.2" height="27.3" fill="none" stroke="#262626" stroke-width="1.7" />
<text x="54.2" y="392.5" font-size="7.1" text-anchor="end" fill="#231f20" stroke="#231f20" stroke-width="0.12" textLength="39.2" lengthAdjust="spacingAndGlyphs">Total PLCγ<tspan font-size="4.9" dy="1.6">2</tspan></text>
<text x="179.8" y="387.9" font-size="7.2" text-anchor="start" fill="#231f20" stroke="#231f20" stroke-width="0.12" textLength="25.7" lengthAdjust="spacingAndGlyphs" >150kDa</text>
<text x="249.2" y="220.6" font-size="7.2" text-anchor="end" fill="#231f20" stroke="#231f20" stroke-width="0.12" textLength="46.4" lengthAdjust="spacingAndGlyphs" >BDNF 370nM</text>
<text x="249.2" y="229.7" font-size="7.2" text-anchor="end" fill="#231f20" stroke="#231f20" stroke-width="0.12" textLength="26.2" lengthAdjust="spacingAndGlyphs" >Inhibitor</text>
<text x="263.8" y="218.9" font-size="7" text-anchor="middle" fill="#231f20" stroke="#231f20" stroke-width="0.12" >–</text>
<text x="286.8" y="219.6" font-size="7" text-anchor="middle" fill="#231f20" stroke="#231f20" stroke-width="0.12" >+</text>
<text x="310.5" y="219.6" font-size="7" text-anchor="middle" fill="#231f20" stroke="#231f20" stroke-width="0.12" >+</text>
<text x="335.5" y="219.6" font-size="7" text-anchor="middle" fill="#231f20" stroke="#231f20" stroke-width="0.12" >+</text>
<text x="263.8" y="226.5" font-size="7.2" text-anchor="middle" fill="#231f20" stroke="#231f20" stroke-width="0.12" >–</text>
<text x="286.8" y="226.5" font-size="7.2" text-anchor="middle" fill="#231f20" stroke="#231f20" stroke-width="0.12" >–</text>
<text x="310.5" y="227.3" font-size="7.2" text-anchor="middle" fill="#231f20" stroke="#231f20" stroke-width="0.12" textLength="15.5" lengthAdjust="spacingAndGlyphs" >PKC</text>
<text x="335.5" y="227.3" font-size="7.2" text-anchor="middle" fill="#231f20" stroke="#231f20" stroke-width="0.12" textLength="15.8" lengthAdjust="spacingAndGlyphs" >PI3K</text>
<linearGradient id="g7" x1="0" y1="0" x2="0" y2="1"><stop offset="0" stop-color="#ebebeb"/><stop offset="0.6" stop-color="#e6e6e6"/><stop offset="1" stop-color="#e2e2e2"/></linearGradient>
<rect x="253.3" y="233.3" width="92.89999999999998" height="17.399999999999977" fill="url(#g7)" stroke="none" stroke-width="1" />
<clipPath id="cg7"><rect x="253.3" y="233.3" width="92.89999999999998" height="17.399999999999977"/></clipPath>
<g clip-path="url(#cg7)">
<rect x="256.7" y="245.0" width="14.800000000000011" height="2" rx="1.0" fill="#0c0c0c" opacity="0.6" filter="url(#f1)"/>
<rect x="257" y="247.45" width="14" height="1.5" rx="0.75" fill="#0c0c0c" opacity="0.2" filter="url(#f1)"/>
<rect x="278.5" y="244.54999999999998" width="17.30000000000001" height="2.1" rx="1.05" fill="#0c0c0c" opacity="0.85" filter="url(#f1)"/>
<rect x="279" y="247.4" width="16" height="1.2" rx="0.6" fill="#0c0c0c" opacity="0.15" filter="url(#f1)"/>
<rect x="301" y="244.9" width="11" height="1.8" rx="0.9" fill="#0c0c0c" opacity="0.6" filter="url(#f1)"/>
<rect x="301" y="245.25" width="17.30000000000001" height="1.3" rx="0.65" fill="#0c0c0c" opacity="0.3" filter="url(#f1)"/>
<rect x="324" y="243.8" width="16.399999999999977" height="1.2" rx="0.6" fill="#0c0c0c" opacity="0.1" filter="url(#f1)"/>
</g>
<rect x="254.15" y="234.15" width="91.19999999999997" height="15.699999999999978" fill="none" stroke="#262626" stroke-width="1.7" />
<text x="250.3" y="246.2" font-size="7.1" text-anchor="end" fill="#231f20" stroke="#231f20" stroke-width="0.12" textLength="16.7" lengthAdjust="spacingAndGlyphs" >p-Akt</text>
<text x="350" y="246.2" font-size="7.2" text-anchor="start" fill="#231f20" stroke="#231f20" stroke-width="0.12" textLength="21.2" lengthAdjust="spacingAndGlyphs" >55kDa</text>
<linearGradient id="g8" x1="0" y1="0" x2="0" y2="1"><stop offset="0" stop-color="#e4e4e4"/><stop offset="0.6" stop-color="#c9c9c9"/><stop offset="1" stop-color="#d4d4d4"/></linearGradient>
<rect x="253.3" y="252.2" width="92.89999999999998" height="21.900000000000034" fill="url(#g8)" stroke="none" stroke-width="1" />
<clipPath id="cg8"><rect x="253.3" y="252.2" width="92.89999999999998" height="21.900000000000034"/></clipPath>
<g clip-path="url(#cg8)">
<rect x="255" y="261.0" width="91" height="8" rx="3" fill="#0c0c0c" opacity="0.25" filter="url(#f3)"/>
<ellipse cx="266.20000000000005" cy="268" rx="10.200000000000006" ry="2.4640000000000004" fill="#0c0c0c" opacity="0.95" filter="url(#f2)"/>
<ellipse cx="288.25" cy="268.3" rx="10.55" ry="2.3520000000000003" fill="#0c0c0c" opacity="0.85" filter="url(#f2)"/>
<ellipse cx="310.1" cy="267.3" rx="9.899999999999995" ry="2.8000000000000003" fill="#0c0c0c" opacity="0.97" filter="url(#f2)"/>
<ellipse cx="333.6" cy="266.3" rx="11.399999999999995" ry="2.9120000000000004" fill="#0c0c0c" opacity="0.97" filter="url(#f2)"/>
</g>
<rect x="254.15" y="253.04999999999998" width="91.19999999999997" height="20.200000000000035" fill="none" stroke="#262626" stroke-width="1.7" />
<text x="250.3" y="267.5" font-size="7.1" text-anchor="end" fill="#231f20" stroke="#231f20" stroke-width="0.12" textLength="27.5" lengthAdjust="spacingAndGlyphs" >Total Akt</text>
<text x="350" y="267.5" font-size="7.2" text-anchor="start" fill="#231f20" stroke="#231f20" stroke-width="0.12" textLength="21.2" lengthAdjust="spacingAndGlyphs" >55kDa</text>
<linearGradient id="g9" x1="0" y1="0" x2="0" y2="1"><stop offset="0" stop-color="#e6e6e6"/><stop offset="0.6" stop-color="#e2e2e2"/><stop offset="1" stop-color="#dedede"/></linearGradient>
<rect x="253.3" y="280" width="92.89999999999998" height="26.80000000000001" fill="url(#g9)" stroke="none" stroke-width="1" />
<clipPath id="cg9"><rect x="253.3" y="280" width="92.89999999999998" height="26.80000000000001"/></clipPath>
<g clip-path="url(#cg9)">
<rect x="258.7" y="294.09999999999997" width="18.30000000000001" height="1.2" rx="0.6" fill="#0c0c0c" opacity="0.3" filter="url(#f1)"/>
<rect x="281.7" y="293.35" width="18.30000000000001" height="2.3" rx="1.15" fill="#0c0c0c" opacity="0.85" filter="url(#f1)" transform="rotate(-3 290.85 294.5)"/>
<rect x="303.5" y="292.7" width="17.69999999999999" height="2" rx="1.0" fill="#0c0c0c" opacity="0.8" filter="url(#f1)" transform="rotate(-1 312.35 293.7)"/>
<rect x="325" y="292.9" width="18.30000000000001" height="1.6" rx="0.8" fill="#0c0c0c" opacity="0.65" filter="url(#f1)" transform="rotate(-1 334.15 293.7)"/>
</g>
<rect x="254.15" y="280.85" width="91.19999999999997" height="25.100000000000012" fill="none" stroke="#262626" stroke-width="1.7" />
<text x="250.3" y="296.3" font-size="7.1" text-anchor="end" fill="#231f20" stroke="#231f20" stroke-width="0.12" textLength="27" lengthAdjust="spacingAndGlyphs" >p-STAT3</text>
<text x="350" y="294.8" font-size="7.2" text-anchor="start" fill="#231f20" stroke="#231f20" stroke-width="0.12" textLength="21.2" lengthAdjust="spacingAndGlyphs" >86kDa</text>
<linearGradient id="g10" x1="0" y1="0" x2="0" y2="1"><stop offset="0" stop-color="#e2e2e2"/><stop offset="0.6" stop-color="#dcdcdc"/><stop offset="1" stop-color="#dadada"/></linearGradient>
<rect x="253.3" y="308.9" width="92.89999999999998" height="27.600000000000023" fill="url(#g10)" stroke="none" stroke-width="1" />
<clipPath id="cg10"><rect x="253.3" y="308.9" width="92.89999999999998" height="27.600000000000023"/></clipPath>
<g clip-path="url(#cg10)">
<rect x="256.7" y="322.0" width="22.30000000000001" height="2.4" rx="1.2" fill="#0c0c0c" opacity="0.95" filter="url(#f1)"/>
<rect x="278" y="321.9" width="24" height="3" rx="1.5" fill="#0c0c0c" opacity="0.95" filter="url(#f1)"/>
<rect x="300.5" y="320.6" width="5.5" height="5" rx="2.5" fill="#0c0c0c" opacity="0.95" filter="url(#f1)"/>
<rect x="303" y="321.40000000000003" width="18" height="3.4" rx="1.7" fill="#0c0c0c" opacity="0.95" filter="url(#f1)"/>
<rect x="320" y="322.0" width="6" height="2" rx="1.0" fill="#0c0c0c" opacity="0.95" filter="url(#f1)"/>
<rect x="323.5" y="320.8" width="4.5" height="4.4" rx="2.2" fill="#0c0c0c" opacity="0.95" filter="url(#f1)"/>
<rect x="326" y="321.5" width="15" height="3" rx="1.5" fill="#0c0c0c" opacity="0.95" filter="url(#f1)"/>
<rect x="339" y="321.0" width="4" height="4" rx="2.0" fill="#0c0c0c" opacity="0.95" filter="url(#f1)"/>
<rect x="341" y="322.09999999999997" width="5" height="2.2" rx="1.1" fill="#0c0c0c" opacity="0.95" filter="url(#f1)"/>
</g>
<rect x="254.15" y="309.75" width="91.19999999999997" height="25.900000000000023" fill="none" stroke="#262626" stroke-width="1.7" />
<text x="250.3" y="326" font-size="7.1" text-anchor="end" fill="#231f20" stroke="#231f20" stroke-width="0.12" textLength="38" lengthAdjust="spacingAndGlyphs" >Total STAT3</text>
<text x="350" y="324.2" font-size="7.2" text-anchor="start" fill="#231f20" stroke="#231f20" stroke-width="0.12" textLength="21.2" lengthAdjust="spacingAndGlyphs" >86kDa</text>
<linearGradient id="g11" x1="0" y1="0" x2="0" y2="1"><stop offset="0" stop-color="#e9e9e9"/><stop offset="0.6" stop-color="#e5e5e5"/><stop offset="1" stop-color="#e2e2e2"/></linearGradient>
<rect x="253.3" y="343.9" width="92.89999999999998" height="28.80000000000001" fill="url(#g11)" stroke="none" stroke-width="1" />
<clipPath id="cg11"><rect x="253.3" y="343.9" width="92.89999999999998" height="28.80000000000001"/></clipPath>
<g clip-path="url(#cg11)">
<rect x="261.5" y="357.2" width="15.5" height="2.6" rx="1.3" fill="#0c0c0c" opacity="0.95" filter="url(#f1)"/>
<rect x="281.7" y="358.2" width="16.30000000000001" height="2" rx="1.0" fill="#0c0c0c" opacity="0.85" filter="url(#f1)"/>
<rect x="303.5" y="358.2" width="16.100000000000023" height="2" rx="1.0" fill="#0c0c0c" opacity="0.8" filter="url(#f1)"/>
<rect x="324.6" y="358.4" width="17.69999999999999" height="2" rx="1.0" fill="#0c0c0c" opacity="0.8" filter="url(#f1)"/>
</g>
<rect x="254.15" y="344.75" width="91.19999999999997" height="27.100000000000012" fill="none" stroke="#262626" stroke-width="1.7" />
<text x="250.3" y="364" font-size="7.1" text-anchor="end" fill="#231f20" stroke="#231f20" stroke-width="0.12" textLength="28.5" lengthAdjust="spacingAndGlyphs">p-PLCγ<tspan font-size="4.9" dy="1.6">2</tspan></text>
<text x="350" y="359.7" font-size="7.2" text-anchor="start" fill="#231f20" stroke="#231f20" stroke-width="0.12" textLength="25.7" lengthAdjust="spacingAndGlyphs" >150kDa</text>
<linearGradient id="g12" x1="0" y1="0" x2="0" y2="1"><stop offset="0" stop-color="#e6e6e6"/><stop offset="0.6" stop-color="#e0e0e0"/><stop offset="1" stop-color="#dedede"/></linearGradient>
<rect x="253.3" y="375.29999999999995" width="92.89999999999998" height="29.0" fill="url(#g12)" stroke="none" stroke-width="1" />
<clipPath id="cg12"><rect x="253.3" y="375.29999999999995" width="92.89999999999998" height="29.0"/></clipPath>
<g clip-path="url(#cg12)">
<rect x="260" y="390.0" width="17.30000000000001" height="2.8" rx="1.4" fill="#0c0c0c" opacity="1" filter="url(#f1)"/>
<rect x="281.2" y="390.0" width="16.80000000000001" height="2.8" rx="1.4" fill="#0c0c0c" opacity="1" filter="url(#f1)"/>
<rect x="302" y="389.6" width="18.19999999999999" height="2.8" rx="1.4" fill="#0c0c0c" opacity="1" filter="url(#f1)"/>
<rect x="324" y="389.20000000000005" width="18.30000000000001" height="2.8" rx="1.4" fill="#0c0c0c" opacity="1" filter="url(#f1)"/>
<rect x="343.5" y="389.6" width="2.5" height="2" rx="1.0" fill="#0c0c0c" opacity="0.8" filter="url(#f1)"/>
</g>
<rect x="254.15" y="376.15" width="91.19999999999997" height="27.3" fill="none" stroke="#262626" stroke-width="1.7" />
<text x="250.3" y="392.5" font-size="7.1" text-anchor="end" fill="#231f20" stroke="#231f20" stroke-width="0.12" textLength="39.2" lengthAdjust="spacingAndGlyphs">Total PLCγ<tspan font-size="4.9" dy="1.6">2</tspan></text>
<text x="350" y="387.9" font-size="7.2" text-anchor="start" fill="#231f20" stroke="#231f20" stroke-width="0.12" textLength="25.7" lengthAdjust="spacingAndGlyphs" >150kDa</text>
</svg></body></html>
